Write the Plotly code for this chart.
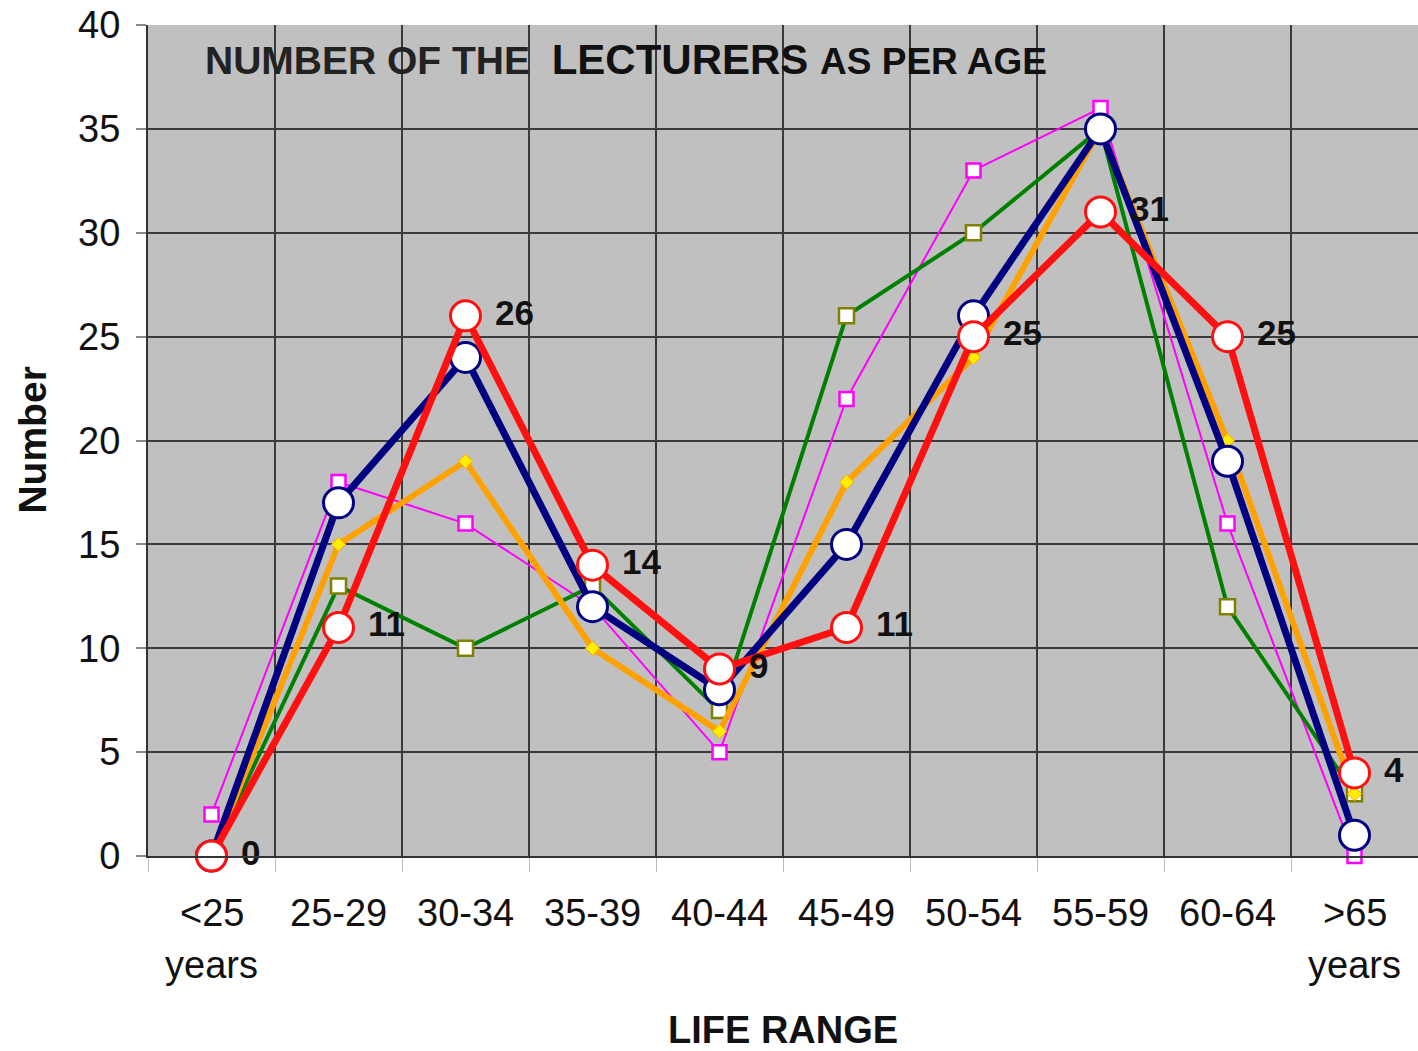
import plotly.graph_objects as go

age_ranges = ["<25", "25-29", "30-34", "35-39", "40-44", "45-49", "50-54", "55-59", "60-64", ">65"]

magenta_vals = [2, 18, 16, 12, 5, 22, 33, 36, 16, 0]
green_vals = [0, 13, 10, 13, 7, 26, 30, 35, 12, 3]
orange_vals = [0, 15, 19, 10, 6, 18, 24, 35, 20, 3]
navy_vals = [0, 17, 24, 12, 8, 15, 26, 35, 19, 1]
red_vals = [0, 11, 26, 14, 9, 11, 25, 31, 25, 4]

xpos = list(range(len(age_ranges)))
FONT = "Liberation Sans, Arial, sans-serif"

fig = go.Figure()

# thin magenta line, open squares
fig.add_trace(go.Scatter(
    x=xpos, y=magenta_vals, mode="lines+markers",
    line=dict(color="#ff00ff", width=2),
    marker=dict(symbol="square", size=14, color="white", line=dict(color="#ff00ff", width=2.5)),
    cliponaxis=False,
))

# green line, olive-edged squares
fig.add_trace(go.Scatter(
    x=xpos, y=green_vals, mode="lines+markers",
    line=dict(color="#008000", width=4),
    marker=dict(symbol="square", size=15, color="white", line=dict(color="#808000", width=2.5)),
    cliponaxis=False,
))

# orange line, small yellow diamonds
fig.add_trace(go.Scatter(
    x=xpos, y=orange_vals, mode="lines+markers",
    line=dict(color="#ffa200", width=6),
    marker=dict(symbol="diamond", size=11, color="#ffee00", line=dict(color="#ffa200", width=1)),
    cliponaxis=False,
))

# navy line, open circles
fig.add_trace(go.Scatter(
    x=xpos, y=navy_vals, mode="lines+markers",
    line=dict(color="#000080", width=7),
    marker=dict(symbol="circle", size=30, color="white", line=dict(color="#000080", width=3)),
    cliponaxis=False,
))

# red line, open circles, labelled
fig.add_trace(go.Scatter(
    x=xpos, y=red_vals, mode="lines+markers+text",
    line=dict(color="#ff1010", width=7),
    marker=dict(symbol="circle", size=30, color="white", line=dict(color="#ff1010", width=3)),
    text=["\u00a0" + str(v) for v in red_vals], textposition="middle right",
    textfont=dict(family=FONT, size=35, color="#111111", weight="bold"),
    cliponaxis=False,
))

# x category labels (second line "years" on the ends)
for i, lab in enumerate(age_ranges):
    fig.add_annotation(x=i, y=-0.0686, xref="x", yref="paper", text=lab, showarrow=False,
                       font=dict(family=FONT, size=38, color="#111111"),
                       xanchor="center", yanchor="middle")
for i in (0, len(age_ranges) - 1):
    fig.add_annotation(x=i, y=-0.131, xref="x", yref="paper", text="years", showarrow=False,
                       font=dict(family=FONT, size=38, color="#111111"),
                       xanchor="center", yanchor="middle")

# axis titles
fig.add_annotation(x=4.5, y=-0.2095, xref="x", yref="paper", text="<b>LIFE RANGE</b>",
                   showarrow=False, font=dict(family=FONT, size=38, color="#111111"),
                   xanchor="center", yanchor="middle")
fig.add_annotation(x=-0.0913, y=0.50, xref="paper", yref="paper", text="<b>Number</b>",
                   showarrow=False, textangle=-90, font=dict(family=FONT, size=39, color="#111111"),
                   xanchor="center", yanchor="middle")

# title inside the plot area
fig.add_annotation(
    x=-0.067, y=38.35, xref="x", yref="y", xanchor="left", yanchor="middle", showarrow=False,
    text=("<span style='font-size:39px;color:#222222'>NUMBER OF THE\u00a0\u00a0</span>"
          "<span style='font-size:42px'>LECTURERS\u00a0</span>"
          "<span style='font-size:37px'>AS PER AGE</span>"),
    font=dict(family=FONT, size=38, color="#111111", weight="bold"),
)

fig.update_layout(
    width=1418, height=1051,
    margin=dict(l=148, r=0, t=25, b=195),
    paper_bgcolor="white", plot_bgcolor="#c0c0c0",
    showlegend=False,
    font=dict(family=FONT, color="#111111"),
    xaxis=dict(
        range=[-0.5, 9.5], tickvals=xpos, ticktext=[""] * len(xpos),
        showgrid=False, zeroline=False,
        showline=True, linecolor="#333333", linewidth=2,
        minor=dict(tick0=0.5, dtick=1, ticks="outside", ticklen=14, tickcolor="#bbbbbb",
                   showgrid=True, gridcolor="#3a3a3a", gridwidth=2),
        automargin=False,
    ),
    yaxis=dict(
        range=[0, 40], dtick=5, tick0=0,
        showgrid=True, gridcolor="#3a3a3a", gridwidth=2,
        zeroline=False, showline=True, linecolor="#333333", linewidth=2,
        ticks="outside", ticklen=10, tickcolor="#888888", tickwidth=2,
        tickfont=dict(family=FONT, size=38, color="#111111"),
        ticklabelstandoff=8,
        automargin=False,
    ),
)

fig.write_html("out.html", config={"displayModeBar": False},
               post_script="document.body.style.margin='0';")
